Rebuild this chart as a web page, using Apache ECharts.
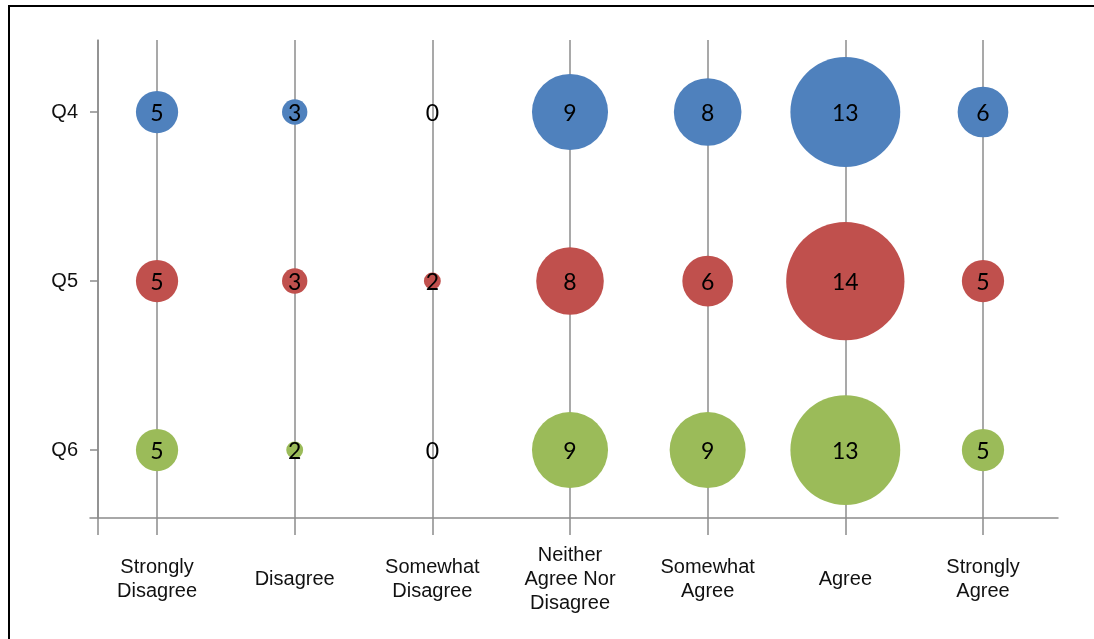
<!DOCTYPE html>
<html>
<head>
  <meta charset="utf-8">
  <script src="https://cdn.jsdelivr.net/npm/echarts@6.0.0/dist/echarts.min.js"></script>
  <style>
    html, body { margin: 0; padding: 0; background: #fff; }
    #main { width: 1094px; height: 639px; }
  </style>
</head>
<body>
  <div id="main"></div>
  <script>
    // answer categories along the bottom
    var answers = ['Strongly\nDisagree', 'Disagree', 'Somewhat\nDisagree', 'Neither\nAgree Nor\nDisagree', 'Somewhat\nAgree', 'Agree', 'Strongly\nAgree'];
    // questions, top to bottom
    var questions = ['Q4', 'Q5', 'Q6'];
    var q4 = [5, 3, 0, 9, 8, 13, 6];
    var q5 = [5, 3, 2, 8, 6, 14, 5];
    var q6 = [5, 2, 0, 9, 9, 13, 5];
    var colors = ['#4F81BD', '#C0504D', '#9BBB59'];

    // axis ranges (positions 1..7 for answers, 3..1 for questions)
    var xMin = 0.513, xMax = 7.545, yAxisAt = 0.571;
    var yMin = 0.598, yMax = 3.426;

    var chart = echarts.init(document.getElementById('main'));

    function toPoints(vals, row) {
      return vals.map(function (v, i) { return [i + 1, row, v]; });
    }

    var rows = [q4, q5, q6];
    var series = rows.map(function (vals, k) {
      return {
        name: questions[k],
        type: 'scatter',
        data: toPoints(vals, 3 - k),
        symbolSize: function (d) { return d[2] * 8.45; },
        itemStyle: { color: colors[k], opacity: 1 },
        label: {
          show: true,
          position: 'inside',
          offset: [0, 2],
          formatter: function (p) { return p.value[2]; },
          color: '#000',
          fontFamily: 'Lato',
          fontSize: 23
        },
        emphasis: { disabled: true }
      };
    });

    var tickVals = [yAxisAt, 1, 2, 3, 4, 5, 6, 7];
    var lineColor = '#8c8c8c';

    chart.setOption({
      animation: false,
      backgroundColor: '#fff',
      grid: { left: 90, right: 36, top: 40, bottom: 121 },
      xAxis: {
        type: 'value',
        min: xMin,
        max: xMax,
        axisLine: { show: true, lineStyle: { color: lineColor, width: 1.5 } },
        axisTick: { show: true, customValues: tickVals, length: 17, lineStyle: { color: lineColor, width: 1.5 } },
        splitLine: { show: true, lineStyle: { color: lineColor, width: 1.5 } },
        axisLabel: {
          customValues: [1, 2, 3, 4, 5, 6, 7],
          formatter: function (v) { return answers[Math.round(v) - 1]; },
          color: '#111',
          fontFamily: 'Liberation Sans',
          fontSize: 20,
          lineHeight: 24,
          align: 'center',
          verticalAlign: 'middle',
          margin: 61
        }
      },
      yAxis: {
        type: 'value',
        min: yMin,
        max: yMax,
        offset: -8,
        axisLine: { show: true, lineStyle: { color: lineColor, width: 1.5 } },
        axisTick: { show: true, customValues: [1, 2, 3], length: 8, lineStyle: { color: lineColor, width: 1.5 } },
        splitLine: { show: false },
        axisLabel: {
          customValues: [1, 2, 3],
          formatter: function (v) { return questions[3 - Math.round(v)]; },
          color: '#111',
          fontFamily: 'Liberation Sans',
          fontSize: 20,
          margin: 20
        }
      },
      graphic: [{
        type: 'rect',
        shape: { x: 9, y: 6, width: 1200, height: 800 },
        style: { fill: null, stroke: '#000', lineWidth: 2 },
        silent: true
      }],
      series: series
    });
  </script>
</body>
</html>
